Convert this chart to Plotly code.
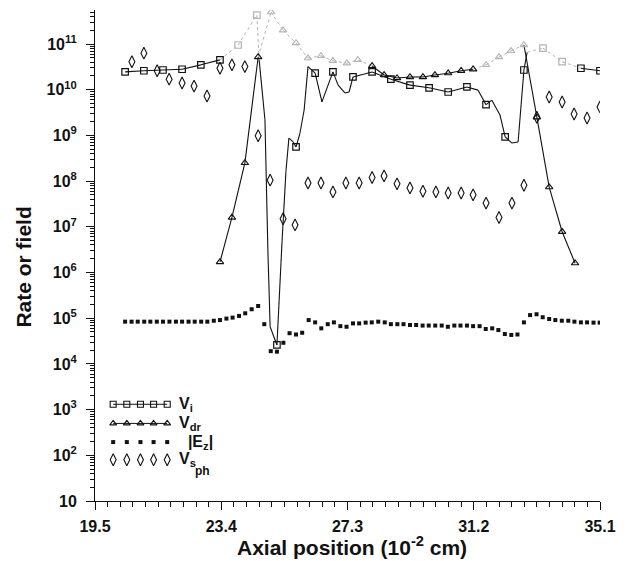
import plotly.graph_objects as go

# ---------------- data ----------------
# V_i : ionisation rate (line points; squares drawn on a subset)
vi_x = [20.43, 21.01, 21.60, 22.19, 22.77, 23.36, 23.92, 24.50, 24.57, 24.75,
        24.84, 24.91, 25.12, 25.28, 25.40, 25.49, 25.62, 25.71, 25.83, 25.96,
        26.08, 26.30, 26.51, 26.85, 27.01, 27.22, 27.35, 27.47, 28.06, 28.64,
        29.23, 29.82, 30.41, 30.99, 31.33, 31.58, 31.76, 32.01, 32.17, 32.38,
        32.57, 32.75, 32.85, 33.34, 33.93, 34.51, 35.10]
vi_y = [2.45e10, 2.6e10, 2.7e10, 2.8e10, 3.5e10, 4.5e10, 9.5e10, 4.3e11, 4.5e10, 2.2e9,
        3.1e6, 6.5e4, 2.6e4, 5.1e6, 1.7e8, 8.7e8, 7.2e8, 5.6e8, 1.1e9, 3.6e9,
        3.2e10, 2.3e10, 5.4e9, 2.45e10, 1.26e10, 8.5e9, 8.9e9, 1.9e10, 2.45e10, 1.7e10,
        1.26e10, 1.1e10, 8.9e9, 1.15e10, 9.8e9, 4.7e9, 5.9e9, 2.8e9, 9.3e8, 6.8e8,
        7.2e8, 2.7e10, 6.6e10, 8.1e10, 4.1e10, 2.95e10, 2.6e10]

# V_dr : drift rate
vdr_x = [23.36, 23.73, 24.13, 24.54, 24.94, 25.31, 25.71, 26.08, 26.48, 26.85,
         27.28, 27.62, 28.06, 28.43, 28.83, 29.23, 29.63, 30.00, 30.41, 30.81,
         31.18, 31.58, 31.98, 32.35, 32.75, 33.15, 33.53, 33.93, 34.33]
vdr_y = [1.7e6, 1.6e7, 2.5e8, 5.2e10, 5.0e11, 2.0e11, 1.05e11, 4.9e10, 5.5e10, 4.3e10,
         3.8e10, 4.5e10, 3.3e10, 2.1e10, 1.8e10, 1.9e10, 1.9e10, 2.1e10, 2.3e10, 2.6e10,
         2.8e10, 3.5e10, 5.2e10, 7.1e10, 9.5e10, 2.5e9, 7.4e7, 7.8e6, 1.6e6]

# |E_z| : axial field magnitude
ez_x = [20.43, 20.63, 20.82, 21.02, 21.21, 21.41, 21.60, 21.80, 22.00, 22.19,
        22.39, 22.58, 22.78, 22.97, 23.17, 23.36, 23.56, 23.75, 23.95, 24.14,
        24.34, 24.54, 24.73, 24.93, 25.12, 25.32, 25.51, 25.71, 25.90, 26.10,
        26.30, 26.49, 26.69, 26.88, 27.08, 27.27, 27.47, 27.66, 27.86, 28.05,
        28.25, 28.45, 28.64, 28.84, 29.03, 29.23, 29.42, 29.62, 29.81, 30.01,
        30.21, 30.40, 30.60, 30.79, 30.99, 31.18, 31.38, 31.57, 31.77, 31.96,
        32.16, 32.36, 32.55, 32.75, 32.94, 33.14, 33.33, 33.53, 33.72, 33.92,
        34.12, 34.31, 34.51, 34.70, 34.90, 35.09]
ez_y = [8.4e4, 8.4e4, 8.4e4, 8.4e4, 8.4e4, 8.4e4, 8.4e4, 8.4e4, 8.4e4, 8.4e4,
        8.4e4, 8.4e4, 8.4e4, 8.4e4, 8.8e4, 9.1e4, 9.8e4, 1.03e5, 1.12e5, 1.28e5,
        1.57e5, 1.85e5, 7.4e4, 1.9e4, 1.85e4, 2.9e4, 4.7e4, 4.4e4, 4.8e4, 9.1e4,
        8.1e4, 6.0e4, 7.4e4, 8.1e4, 6.7e4, 6.5e4, 7.7e4, 7.7e4, 8.0e4, 8.1e4,
        8.4e4, 8.1e4, 7.4e4, 7.4e4, 7.4e4, 7.1e4, 7.1e4, 6.9e4, 6.9e4, 6.9e4,
        6.9e4, 6.5e4, 6.9e4, 6.9e4, 6.9e4, 6.7e4, 6.7e4, 5.8e4, 6.0e4, 5.5e4,
        4.5e4, 4.3e4, 4.4e4, 8.1e4, 1.17e5, 1.22e5, 1.05e5, 9.6e4, 9.1e4, 8.8e4,
        8.8e4, 8.4e4, 8.1e4, 8.1e4, 8.0e4, 8.0e4]

# V_sph : sheath rate
vsph_x = [20.64, 21.01, 21.42, 21.79, 22.19, 22.56, 22.96, 23.36, 23.73, 24.13,
          24.54, 24.91, 25.31, 25.68, 26.08, 26.48, 26.85, 27.25, 27.66, 28.06,
          28.43, 28.83, 29.23, 29.63, 30.03, 30.41, 30.81, 31.18, 31.58, 31.98,
          32.38, 32.75, 33.15, 33.53, 33.93, 34.30, 34.70, 35.10]
vsph_y = [4.1e10, 6.3e10, 2.6e10, 1.7e10, 1.4e10, 1.2e10, 7.3e9, 2.95e10, 3.5e10, 3.2e10,
          9.8e8, 1.05e8, 1.5e7, 1.1e7, 9.1e7, 9.1e7, 5.8e7, 9.1e7, 9.1e7, 1.2e8,
          1.3e8, 8.7e7, 7.1e7, 6.0e7, 5.8e7, 5.5e7, 5.5e7, 5.0e7, 3.3e7, 1.6e7,
          3.3e7, 8.1e7, 2.5e9, 6.9e9, 5.4e9, 2.95e9, 2.4e9, 4.2e9]

x_tickvals = [19.5, 23.4, 27.3, 31.2, 35.1]
x_ticktext = ["19.5", "23.4", "27.3", "31.2", "35.1"]
y_tickvals = [1e1, 1e2, 1e3, 1e4, 1e5, 1e6, 1e7, 1e8, 1e9, 1e10, 1e11]
y_ticktext = ["10"] + ["10<sup>%d</sup>" % p for p in range(2, 12)]

legend_labels = ["V<sub>i</sub>", "V<sub>dr</sub>", "  |E<sub>z</sub>|", "V<sub>s</sub>"]
sph_suffix = "ph"

# ---------------- styling ----------------
INK = "#111111"
PALE = "#b4b4b4"
FONT = "Liberation Sans, Arial, sans-serif"

# which points carry a square marker on the V_i curve
VI_MARKED = [0, 1, 2, 3, 4, 5, 6, 7, 12, 17, 21, 23, 27, 28, 29, 30, 31, 32, 33,
             35, 38, 41, 43, 44, 45, 46]
VI_PALE_SEGS = {5, 6, 7, 42, 43, 44}
VI_PALE_PTS = {6, 7, 43, 44}
VDR_PALE_SEGS = {3, 4, 5, 6, 7, 8, 9, 10, 11, 20, 21, 22, 23}
VDR_PALE_PTS = {4, 5, 6, 7, 8, 9, 10, 11, 21, 22, 23, 24}

fig = go.Figure()


def add_curve(xs, ys, pale_segs):
    sx, sy, px, py = [], [], [], []
    for i in range(len(xs) - 1):
        tx, ty = (px, py) if i in pale_segs else (sx, sy)
        tx += [xs[i], xs[i + 1], None]
        ty += [ys[i], ys[i + 1], None]
    fig.add_trace(go.Scatter(x=sx, y=sy, mode="lines", showlegend=False,
                             line=dict(color=INK, width=1.1)))
    fig.add_trace(go.Scatter(x=px, y=py, mode="lines", showlegend=False,
                             line=dict(color=PALE, width=1, dash="dot")))


add_curve(vi_x, vi_y, VI_PALE_SEGS)
fig.add_trace(go.Scatter(
    x=[vi_x[i] for i in VI_MARKED], y=[vi_y[i] for i in VI_MARKED],
    mode="markers", showlegend=False,
    marker=dict(symbol="square-open", size=6.5,
                color=[PALE if i in VI_PALE_PTS else INK for i in VI_MARKED],
                line=dict(width=1.2))))

add_curve(vdr_x, vdr_y, VDR_PALE_SEGS)
fig.add_trace(go.Scatter(
    x=vdr_x, y=vdr_y, mode="markers", showlegend=False,
    marker=dict(symbol="triangle-up-open", size=6.5,
                color=[PALE if i in VDR_PALE_PTS else INK for i in range(len(vdr_x))],
                line=dict(width=1.1))))

fig.add_trace(go.Scatter(
    x=ez_x, y=ez_y, mode="markers", showlegend=False,
    marker=dict(symbol="square", size=4, color=INK, line=dict(width=0))))

fig.add_trace(go.Scatter(
    x=vsph_x, y=vsph_y, mode="markers", showlegend=False,
    marker=dict(symbol="diamond-tall-open", size=8.5, color=INK, line=dict(width=1.1))))

# ---------------- key (drawn on a helper 0..1 frame) ----------------
key_x = [0.036, 0.063, 0.090, 0.116, 0.143]
key_rows = [0.197, 0.158, 0.120, 0.084]
key_styles = [
    dict(mode="lines+markers", marker=dict(symbol="square-open", size=6, color=INK, line=dict(width=1.1))),
    dict(mode="lines+markers", marker=dict(symbol="triangle-up-open", size=6, color=INK, line=dict(width=1.1))),
    dict(mode="markers", marker=dict(symbol="square", size=4, color=INK)),
    dict(mode="markers", marker=dict(symbol="diamond-tall-open", size=8.5, color=INK, line=dict(width=1.1))),
]
label_font = dict(family=FONT, size=16, color=INK, weight="bold")
for row, style, label in zip(key_rows, key_styles, legend_labels):
    fig.add_trace(go.Scatter(x=key_x, y=[row] * len(key_x), xaxis="x2", yaxis="y2",
                             showlegend=False, line=dict(color=INK, width=1), **style))
    fig.add_annotation(x=0.162, y=row, xref="paper", yref="paper", text=label,
                       showarrow=False, xanchor="left", yanchor="middle",
                       font=label_font)
# second-level subscript of V_sph
fig.add_annotation(x=0.194, y=key_rows[3] - 0.022, xref="paper", yref="paper",
                   text=sph_suffix, showarrow=False, xanchor="left", yanchor="middle",
                   font=dict(family=FONT, size=12, color=INK, weight="bold"))

fig.add_annotation(x=0.509, y=-0.092, xref="paper", yref="paper",
                   text="Axial position (10<sup>-2</sup> cm)", showarrow=False,
                   xanchor="center", yanchor="middle",
                   font=dict(family=FONT, size=21, color=INK, weight="bold"))
fig.add_annotation(x=-0.141, y=0.477, xref="paper", yref="paper",
                   text="Rate or field", showarrow=False, textangle=-90,
                   xanchor="center", yanchor="middle",
                   font=dict(family=FONT, size=21, color=INK, weight="bold"))

tick_font = dict(family=FONT, size=16, color=INK, weight="bold")
fig.update_layout(
    width=628, height=561,
    margin=dict(l=95, r=28, t=10, b=60),
    paper_bgcolor="white", plot_bgcolor="white",
    showlegend=False,
    xaxis=dict(range=[19.5, 35.1], tickmode="array", tickvals=x_tickvals, ticktext=x_ticktext,
               ticks="outside", ticklen=8, tickwidth=1, tickcolor=INK,
               showline=True, linecolor=INK, linewidth=1, showgrid=False, zeroline=False,
               tickfont=tick_font, ticklabelstandoff=3,
               minor=dict(tickmode="linear", tick0=19.5, dtick=0.39, ticks="outside",
                          ticklen=5, tickwidth=1, tickcolor=INK, showgrid=False)),
    yaxis=dict(type="log", range=[1, 11.744], tickmode="array", tickvals=y_tickvals,
               ticktext=y_ticktext, ticks="outside", ticklen=8, tickwidth=1, tickcolor=INK,
               showline=True, linecolor=INK, linewidth=1, showgrid=False, zeroline=False,
               tickfont=tick_font, ticklabelstandoff=6,
               minor=dict(dtick="D1", ticks="outside", ticklen=4, tickwidth=1,
                          tickcolor=INK, showgrid=False)),
    xaxis2=dict(range=[0, 1], overlaying="x", visible=False),
    yaxis2=dict(range=[0, 1], overlaying="y", visible=False),
)

fig.write_html("out.html")
